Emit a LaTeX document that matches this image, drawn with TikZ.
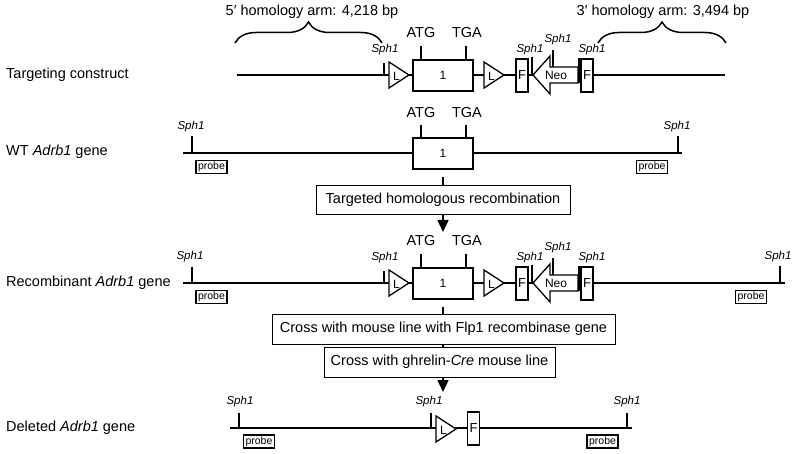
\documentclass[tikz,border=0pt]{standalone}
\usepackage{fontspec}
\setmainfont{Liberation Sans}
\usetikzlibrary{decorations.pathreplacing,arrows.meta}
\newcommand\loxsite[2]{%
  \draw[line width=1.3pt,fill=white] (#1,#2-13) -- (#1+20,#2) -- (#1,#2+13) -- cycle;
  \node[loxlab] at (#1+7.5,#2+1) {L};}
\newcommand\neocassette[2]{%
  \draw[line width=1.3pt,fill=white] (#1,#2) -- (#1+17,#2-19) -- (#1+17,#2-8) -- (#1+45,#2-8) -- (#1+45,#2+8) -- (#1+17,#2+8) -- (#1+17,#2+19) -- cycle;
  \node[loxlab] at (#1+23,#2+0.5) {Neo};}
\newcommand\sphsite[4]{% x, y line, label x, label y
  \draw[site] (#1,#2-13) -- (#1,#2);
  \node[sphlab] at (#3,#4) {Sph1};}
\newcommand\cassette[2]{% y of line, suffix
  \draw[site] (384,#1-12) -- (384,#1);
  \node[sphlab] at (385,#1-25) {Sph1};
  \loxsite{389}{#1}
  \node[exonbox] (ex#2) at (443,#1+0.5) {1};
  \draw[site] (421,#1-15) -- (421,#1-29);
  \draw[site] (466,#1-15) -- (466,#1-29);
  \node[codon] at (421,#1-42) {ATG};
  \node[codon] at (467,#1-42) {TGA};
  \loxsite{484}{#1}
  \node[frt] (fa#2) at (522,#1+0.5) {F};
  \draw[site] (532,#1-18) -- (532,#1);
  \node[sphlab] at (530,#1-25) {Sph1};
  \neocassette{533}{#1}
  \draw[site] (553,#1-25) -- (553,#1-8);
  \node[sphlab] at (558,#1-35) {Sph1};
  \draw[site] (579,#1-17) -- (579,#1+8);
  \node[frt] (fb#2) at (587,#1+0.5) {F};
  \node[sphlab] at (592,#1-25) {Sph1};}
\begin{document}
\begin{tikzpicture}[x=1pt,y=-1pt,
  dna/.style={line width=1.7pt},
  site/.style={line width=1.5pt},
  exonbox/.style={draw,line width=1.7pt,fill=white,minimum width=60pt,minimum height=31pt,inner sep=0pt,font=\fontsize{12}{14}\selectfont},
  frt/.style={draw,line width=1.5pt,fill=white,minimum width=12pt,minimum height=33pt,inner sep=0pt,font=\fontsize{13}{15}\selectfont},
  probebox/.style={draw,line width=1.6pt,fill=white,minimum width=31pt,minimum height=13pt,inner sep=0pt,font=\fontsize{10.5}{12}\selectfont},
  sphlab/.style={font=\fontsize{11.5}{13}\selectfont\itshape,inner sep=0pt},
  codon/.style={font=\fontsize{14.5}{17}\selectfont,inner sep=0pt},
  rowlab/.style={font=\fontsize{14.5}{17}\selectfont,anchor=west,inner sep=0pt},
  stepbox/.style={draw,line width=0.9pt,fill=white,inner sep=0pt,font=\fontsize{14.5}{17}\selectfont},
  flow/.style={line width=1.6pt},
  flowarrow/.style={line width=1.6pt,-{Triangle[length=12pt,width=11pt]}},
  armbrace/.style={line width=1.5pt,decorate,decoration={brace,amplitude=21pt}},
  loxlab/.style={font=\fontsize{12}{14}\selectfont,inner sep=0pt},
]
\useasboundingbox (0,0) rectangle (792,454);

% ---------- row labels ----------
\node[rowlab] (l1) at (6,75) {Targeting construct};
\node[rowlab] (l2) at (6,152) {WT \textit{Adrb1} gene};
\node[rowlab] (l3) at (6,283) {Recombinant \textit{Adrb1} gene};
\node[rowlab] (l4) at (6,428) {Deleted \textit{Adrb1} gene};

% ---------- row 1: targeting construct ----------
\coordinate (r1a) at (237,75);
\coordinate (r1b) at (725,75);
\draw[dna] (r1a) -- (r1b);
\cassette{75}{a}
\draw[armbrace] (235,43) -- (382,43);
\draw[armbrace] (598,43) -- (726,43);
\node[codon] (arm5) at (312,12) {5′ homology arm: 4,218 bp};
\node[codon] (arm3) at (663,12) {3′ homology arm: 3,494 bp};

% ---------- row 2: WT gene ----------
\coordinate (r2a) at (183,153);
\coordinate (r2b) at (682,153);
\draw[dna] (r2a) -- (r2b);
\draw[site] (192,136) -- (192,153);
\node[sphlab] at (191,127) {Sph1};
\draw[site] (678,136) -- (678,153);
\node[sphlab] at (677,127) {Sph1};
\node[exonbox] (exw) at (443,153.5) {1};
\draw[site] (421,138) -- (421,125);
\draw[site] (466,138) -- (466,125);
\node[codon] at (421,113) {ATG};
\node[codon] at (467,113) {TGA};
\node[probebox] (p2a) at (211.5,167) {probe};
\node[probebox] (p2b) at (652,167) {probe};

% ---------- step 1 ----------
\node[stepbox,minimum width=254pt,minimum height=29pt] (s1) at (443,199.5) {Targeted homologous recombination};
\draw[flow,shorten <=7pt] (exw.south) -- (s1.north);
\coordinate (r3arrow) at (443,232);
\draw[flowarrow] (s1.south) -- (r3arrow);

% ---------- row 3: recombinant gene ----------
\coordinate (r3a) at (183,283);
\coordinate (r3b) at (785,283);
\draw[dna] (r3a) -- (r3b);
\draw[site] (192,267) -- (192,283);
\node[sphlab] at (190,257) {Sph1};
\draw[site] (780,266) -- (780,283);
\node[sphlab] at (778,257) {Sph1};
\cassette{283}{b}
\node[probebox] (p3a) at (211.5,297) {probe};
\node[probebox] (p3b) at (751,297) {probe};

% ---------- steps 2 and 3 ----------
\node[stepbox,minimum width=343pt,minimum height=30pt] (s2) at (443.5,329) {Cross with mouse line with Flp1 recombinase gene};
\node[stepbox,minimum width=231pt,minimum height=30pt] (s3) at (439.5,362) {Cross with ghrelin-\textit{Cre} mouse line};
\draw[flow,shorten <=7pt] (exb.south) -- (s2.north -| exb.south);
\draw[flow] (s2.south -| exb.south) -- (s3.north -| exb.south);
\coordinate (r4arrow) at (443,392);
\draw[flowarrow] (s3.south -| exb.south) -- (r4arrow);

% ---------- row 4: deleted gene ----------
\coordinate (r4a) at (230,428);
\coordinate (r4b) at (632,428);
\draw[dna] (r4a) -- (r4b);
\draw[site] (239,413) -- (239,428);
\node[sphlab] at (240,402) {Sph1};
\draw[site] (431,413) -- (431,428);
\node[sphlab] at (429,402) {Sph1};
\loxsite{436}{429}
\node[frt] (f4) at (473.5,428.5) {F};
\draw[site] (627,413) -- (627,428);
\node[sphlab] at (627,402) {Sph1};
\node[probebox] (p4a) at (259,441.5) {probe};
\node[probebox] (p4b) at (602.5,441.5) {probe};
\end{tikzpicture}
\end{document}
